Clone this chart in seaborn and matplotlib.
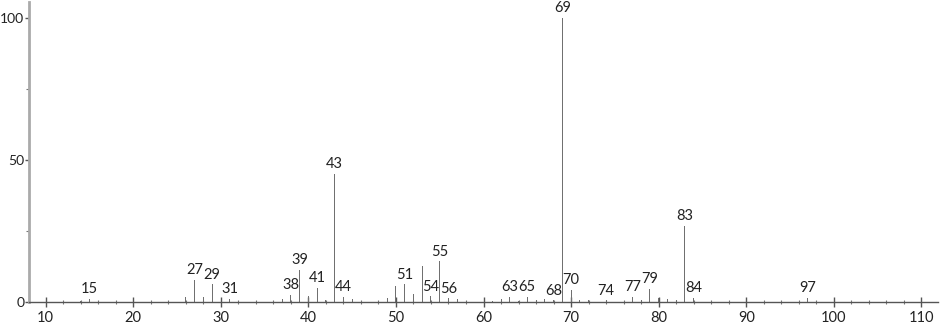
import numpy as np
import pandas as pd
import matplotlib
matplotlib.use("Agg")
import matplotlib.pyplot as plt
import seaborn as sns
from matplotlib.ticker import MultipleLocator, FixedLocator

# m/z values and relative intensities
mz = [14, 15, 26, 27, 28, 29, 31, 37, 38, 39, 40, 41, 42, 43, 44, 45,
      49, 50, 51, 52, 53, 54, 55, 56, 57, 61, 62, 63, 64, 65, 66, 67, 68,
      69, 70, 71, 72, 74, 77, 78, 79, 80, 81, 82, 83, 84, 97]
intensity = [0.6, 1.2, 1.8, 7.9, 1.8, 6.3, 1.2, 1.2, 2.6, 11.5, 2.1, 5.2, 0.8, 45.3, 1.9, 1.0,
             1.6, 5.7, 6.3, 2.8, 12.7, 2.1, 14.4, 1.4, 1.0, 0.5, 1.3, 2.0, 0.6, 2.0, 0.9, 1.3, 0.7,
             100.0, 4.5, 0.7, 0.7, 0.7, 2.0, 0.9, 4.8, 1.6, 1.3, 0.7, 26.8, 1.6, 1.5]
labeled = [15, 27, 29, 31, 38, 39, 41, 43, 44, 51, 54, 55, 56, 63, 65, 68,
           69, 70, 74, 77, 79, 83, 84, 97]
x_ticks = [10, 20, 30, 40, 50, 60, 70, 80, 90, 100, 110]
y_ticks = [0, 50, 100]

df = pd.DataFrame({"mz": mz, "intensity": intensity})

sns.set_style("white")
plt.rcParams["font.family"] = ["Lato", "DejaVu Sans"]

fig = plt.figure(figsize=(9.4, 3.24), dpi=100)
ax = fig.add_axes([29 / 940, (324 - 302.3) / 324, (938 - 29) / 940, (302.3 - 1.7) / 324])

sns.barplot(data=df, x="mz", y="intensity", native_scale=True, width=0.1145,
            color="#707070", linewidth=0, saturation=1, ax=ax)

ax.set_xlim(8.1, 111.9)
ax.set_ylim(0, 105.8)

for m, v in zip(mz, intensity):
    if m in labeled:
        ax.annotate(str(m), (m, v), xytext=(0, 2), textcoords="offset points",
                    ha="center", va="bottom", fontsize=10.5, color="#222222")

ax.xaxis.set_major_locator(FixedLocator(x_ticks))
ax.xaxis.set_minor_locator(MultipleLocator(2))
ax.yaxis.set_major_locator(FixedLocator(y_ticks))
ax.yaxis.set_minor_locator(FixedLocator([25, 75]))
ax.set_xticklabels([str(t) for t in x_ticks])
ax.set_yticklabels([str(t) for t in y_ticks])

ax.tick_params(axis="x", which="major", direction="inout", length=7, width=1,
               color="#555555", labelsize=10.5, labelcolor="#222222", pad=3)
ax.tick_params(axis="x", which="minor", direction="inout", length=3, width=0.8,
               color="#777777")
ax.tick_params(axis="y", which="major", direction="out", length=3, width=1,
               color="#555555", labelsize=10, labelcolor="#222222", pad=0.5)
ax.tick_params(axis="y", which="minor", direction="out", length=2, width=0.8,
               color="#777777")
ax.tick_params(bottom=True, left=True, which="both")

ax.set_xlabel("")
ax.set_ylabel("")
for s in ["top", "right"]:
    ax.spines[s].set_visible(False)
ax.spines["left"].set_color("#aaaaaa")
ax.spines["left"].set_linewidth(2)
ax.spines["bottom"].set_color("#555555")
ax.spines["bottom"].set_linewidth(1)

fig.savefig("out.png", dpi=100)
